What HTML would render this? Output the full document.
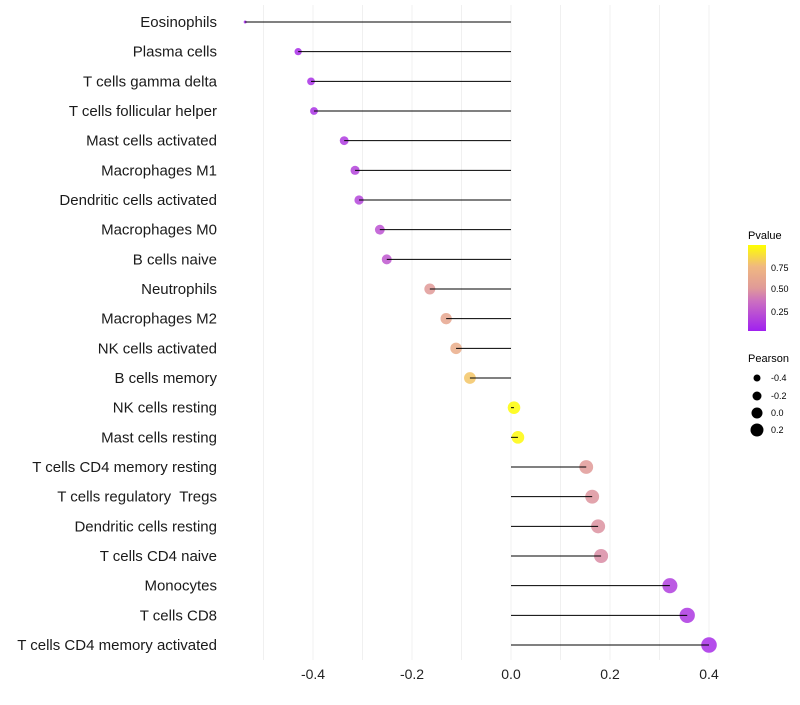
<!DOCTYPE html>
<html><head><meta charset="utf-8"><style>
body{margin:0;background:#fff;font-family:"Liberation Sans",sans-serif}
</style></head><body>
<svg width="800" height="700" id="chart" style="font-family:'Liberation Sans',sans-serif">
<g id="grid"></g>
<g id="pts"></g>
<g id="ylab"></g>
<g id="xlab"></g>
<g>
<defs><linearGradient id="pg" x1="0" y1="1" x2="0" y2="0">
<stop offset="0" stop-color="#a020f0"/><stop offset="0.35" stop-color="#cc70c0"/><stop offset="0.5" stop-color="#e09a98"/><stop offset="0.75" stop-color="#f0b880"/><stop offset="1" stop-color="#ffff00"/></linearGradient></defs>
<text x="748" y="239" font-size="11">Pvalue</text>
<rect x="748" y="245" width="18" height="86" fill="url(#pg)"/>
<text x="771" y="271" font-size="9">0.75</text>
<text x="771" y="292" font-size="9">0.50</text>
<text x="771" y="315" font-size="9">0.25</text>
</g>
<g>
<text x="748" y="362" font-size="11">Pearson</text>
<circle cx="757" cy="378" r="3.5"/><text x="771" y="381" font-size="9">-0.4</text>
<circle cx="757" cy="396" r="4.5"/><text x="771" y="399" font-size="9">-0.2</text>
<circle cx="757" cy="413" r="5.5"/><text x="771" y="416" font-size="9">0.0</text>
<circle cx="757" cy="430" r="6.5"/><text x="771" y="433" font-size="9">0.2</text>
</g>
</svg>
<script>
const cells=["Eosinophils","Plasma cells","T cells gamma delta","T cells follicular helper","Mast cells activated","Macrophages M1","Dendritic cells activated","Macrophages M0","B cells naive","Neutrophils","Macrophages M2","NK cells activated","B cells memory","NK cells resting","Mast cells resting","T cells CD4 memory resting","T cells regulatory  Tregs","Dendritic cells resting","T cells CD4 naive","Monocytes","T cells CD8","T cells CD4 memory activated"];
const pearson=[-0.537,-0.430,-0.404,-0.398,-0.337,-0.315,-0.307,-0.265,-0.251,-0.164,-0.131,-0.111,-0.083,0.006,0.014,0.152,0.164,0.176,0.182,0.321,0.356,0.400];
const pvalue=[0.03,0.06,0.07,0.08,0.12,0.15,0.16,0.22,0.24,0.5,0.6,0.66,0.8,0.99,0.98,0.5,0.48,0.47,0.45,0.13,0.10,0.06];
const xticks=[-0.4,-0.2,0.0,0.2,0.4];
const NS="http://www.w3.org/2000/svg";
const x=v=>511+v*495, y=i=>22+i*29.667;
function mk(t,a,p){const e=document.createElementNS(NS,t);for(const k in a)e.setAttribute(k,a[k]);p.appendChild(e);return e;}
function lerp(a,b,t){return a.map((c,i)=>Math.round(c+(b[i]-c)*t));}
const stops=[[0,[160,32,240]],[0.35,[204,112,192]],[0.5,[224,154,152]],[0.75,[240,184,128]],[1,[255,255,0]]];
function col(p){for(let i=1;i<stops.length;i++){if(p<=stops[i][0]){const t=(p-stops[i-1][0])/(stops[i][0]-stops[i-1][0]);return "rgb("+lerp(stops[i-1][1],stops[i][1],t).join(",")+")";}}return "rgb(255,255,0)";}
const g=document.getElementById('grid'),pt=document.getElementById('pts'),yl=document.getElementById('ylab'),xl=document.getElementById('xlab');
for(let v=-0.5;v<=0.41;v+=0.1){const l=mk('line',{x1:x(v),x2:x(v),y1:5,y2:660,stroke:'#f0f0f0','stroke-width':1},g);

}
xticks.forEach(v=>{const t=mk('text',{x:x(v),y:679,'font-size':14,'text-anchor':'middle',fill:'#222'},xl);t.textContent=v.toFixed(1);

});
const mn=Math.min(...pearson),mx=Math.max(...pearson);
cells.forEach((c,i)=>{
const t=mk('text',{x:217,y:y(i)+5,'font-size':15,'text-anchor':'end',fill:'#1a1a1a',style:'white-space:pre'},yl);t.textContent=c;


const r=1.5+6.3*Math.sqrt((pearson[i]-mn)/(mx-mn));
const ci=mk('circle',{cx:x(pearson[i]),cy:y(i),r:r,fill:col(pvalue[i]),'fill-opacity':0.85},pt);


const l=mk('line',{x1:x(0),x2:x(pearson[i]),y1:y(i),y2:y(i),stroke:'#000','stroke-width':1},pt);


});
</script>
</body></html>
